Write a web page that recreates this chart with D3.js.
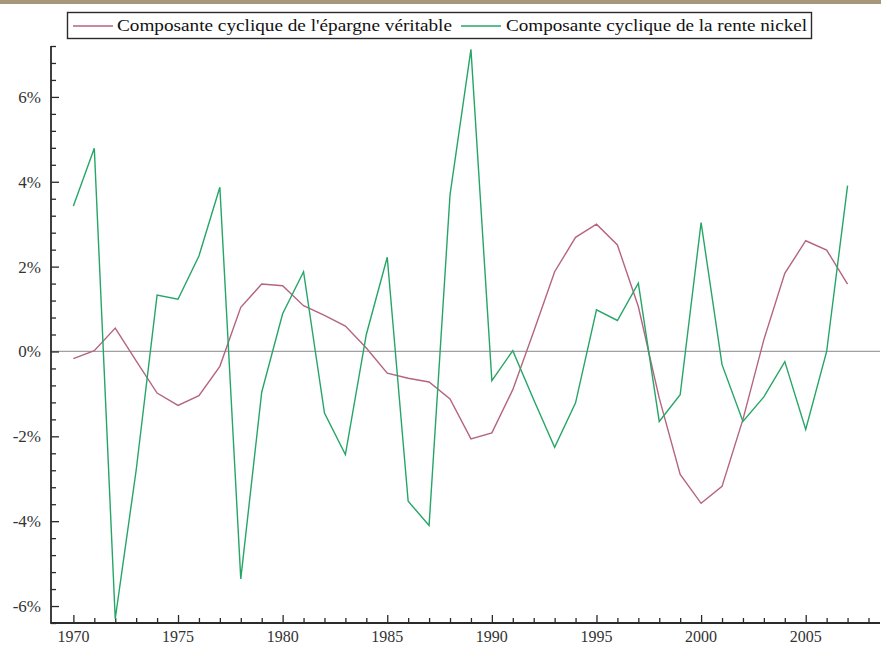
<!DOCTYPE html>
<html>
<head>
<meta charset="utf-8">
<script src="https://cdn.jsdelivr.net/npm/d3@7"></script>
<style>
  html, body { margin: 0; padding: 0; background: #fff; }
  svg { display: block; }
</style>
</head>
<body>
<svg id="chart" width="881" height="646"></svg>
<script>
// Years 1970–2007
const years = d3.range(1970, 2008);

// Cyclical component of genuine savings (%)
const epargne = [
  -0.17, 0.02, 0.55, -0.22, -0.98, -1.27, -1.04, -0.35, 1.04, 1.59,
  1.55, 1.08, 0.85, 0.60, 0.08, -0.51, -0.63, -0.72, -1.12, -2.06,
  -1.92, -0.90, 0.47, 1.88, 2.69, 3.00, 2.51, 1.06, -1.10, -2.90,
  -3.58, -3.18, -1.60, 0.28, 1.84, 2.61, 2.39, 1.59
];

// Cyclical component of the nickel rent (%)
const rente = [
  3.43, 4.79, -6.30, -2.80, 1.33, 1.23, 2.25, 3.87, -5.36, -0.96,
  0.89, 1.88, -1.45, -2.43, 0.40, 2.22, -3.53, -4.10, 3.69, 7.12,
  -0.69, 0.02, -1.14, -2.26, -1.21, 0.98, 0.73, 1.61, -1.65, -1.02,
  3.04, -0.31, -1.65, -1.07, -0.24, -1.84, 0.00, 3.91
];

const seriesNames = [
  "Composante cyclique de l'épargne véritable",
  "Composante cyclique de la rente nickel"
];
const seriesColors = ["#b5647f", "#25a667"];

const yMajorTicks = [-6, -4, -2, 0, 2, 4, 6];
const xMajorTicks = [1970, 1975, 1980, 1985, 1990, 1995, 2000, 2005];

const serif = "'Liberation Serif', 'Times New Roman', 'DejaVu Serif', serif";
const inkColor = "#2a2a2a";

const svg = d3.select("#chart");

// Decorative band along the top edge
svg.append("rect")
  .attr("x", 0).attr("y", 0).attr("width", 881).attr("height", 4)
  .attr("fill", "#a7977a");

const plotLeft = 51, plotRight = 880, plotTop = 46, plotBottom = 623;

const x = d3.scaleLinear().domain([1968.93, 2008.55]).range([plotLeft, plotRight]);
const y = d3.scaleLinear().domain([-6.4, 7.2]).range([plotBottom, plotTop]);

// Zero reference line
svg.append("line")
  .attr("x1", plotLeft).attr("x2", plotRight)
  .attr("y1", y(0)).attr("y2", y(0))
  .attr("stroke", "#a0a0a0").attr("stroke-width", 1.2);

// Y axis: ticks point into the plot
const yMinor = d3.range(-6.4, 7.2001, 0.4).map(v => +v.toFixed(1))
  .filter(v => !yMajorTicks.includes(v));

const yAxisMinor = d3.axisRight(y).tickValues(yMinor).tickSize(5).tickFormat("");
const yAxisMajor = d3.axisRight(y).tickValues(yMajorTicks).tickSize(8).tickFormat("");

svg.append("g").attr("transform", `translate(${plotLeft},0)`).call(yAxisMinor)
  .call(g => g.select(".domain").remove())
  .selectAll("line").attr("stroke", inkColor).attr("stroke-width", 1.3);
svg.append("g").attr("transform", `translate(${plotLeft},0)`).call(yAxisMajor)
  .call(g => g.select(".domain").remove())
  .selectAll("line").attr("stroke", inkColor).attr("stroke-width", 1.3);

svg.append("g").selectAll("text")
  .data(yMajorTicks)
  .join("text")
  .attr("x", 41)
  .attr("y", d => y(d) + 6)
  .attr("text-anchor", "end")
  .attr("font-family", serif)
  .attr("font-size", 17)
  .attr("fill", "#333")
  .text(d => d + "%");

// X axis: ticks point upward into the plot
const xMinor = years.concat([2008]).filter(v => !xMajorTicks.includes(v));
const xAxisMinor = d3.axisTop(x).tickValues(xMinor).tickSize(5).tickFormat("");
const xAxisMajor = d3.axisTop(x).tickValues(xMajorTicks).tickSize(8).tickFormat("");

svg.append("g").attr("transform", `translate(0,${plotBottom})`).call(xAxisMinor)
  .call(g => g.select(".domain").remove())
  .selectAll("line").attr("stroke", inkColor).attr("stroke-width", 1.3);
svg.append("g").attr("transform", `translate(0,${plotBottom})`).call(xAxisMajor)
  .call(g => g.select(".domain").remove())
  .selectAll("line").attr("stroke", inkColor).attr("stroke-width", 1.3);

svg.append("g").selectAll("text")
  .data(xMajorTicks)
  .join("text")
  .attr("x", d => x(d))
  .attr("y", 642)
  .attr("text-anchor", "middle")
  .attr("font-family", serif)
  .attr("font-size", 16)
  .attr("fill", "#333")
  .text(d => d);

// Axis lines
svg.append("line")
  .attr("x1", plotLeft).attr("x2", plotLeft).attr("y1", plotTop).attr("y2", plotBottom + 0.6)
  .attr("stroke", inkColor).attr("stroke-width", 1.8);
svg.append("line")
  .attr("x1", plotLeft - 0.6).attr("x2", plotRight).attr("y1", plotBottom).attr("y2", plotBottom)
  .attr("stroke", inkColor).attr("stroke-width", 1.8);

// Series lines
const line = d3.line().x((d, i) => x(years[i])).y(d => y(d));
[epargne, rente].forEach((vals, k) => {
  svg.append("path")
    .datum(vals)
    .attr("d", line)
    .attr("fill", "none")
    .attr("stroke", seriesColors[k])
    .attr("stroke-width", 1.4)
    .attr("stroke-linejoin", "miter");
});

// Legend
const legend = svg.append("g");
legend.append("rect")
  .attr("x", 67.5).attr("y", 12.5).attr("width", 744).attr("height", 26)
  .attr("fill", "#fff").attr("stroke", inkColor).attr("stroke-width", 1.4);

const legendItems = [
  { sx: 73, tx: 117, w: 335 },
  { sx: 461, tx: 506, w: 301 }
];
legendItems.forEach((it, k) => {
  legend.append("line")
    .attr("x1", it.sx).attr("x2", it.sx + 40)
    .attr("y1", 26).attr("y2", 26)
    .attr("stroke", seriesColors[k]).attr("stroke-width", 1.4);
  legend.append("text")
    .attr("x", it.tx).attr("y", 31)
    .attr("font-family", serif)
    .attr("font-size", 16)
    .attr("fill", "#111")
    .attr("textLength", it.w)
    .attr("lengthAdjust", "spacingAndGlyphs")
    .text(seriesNames[k]);
});
</script>
</body>
</html>
